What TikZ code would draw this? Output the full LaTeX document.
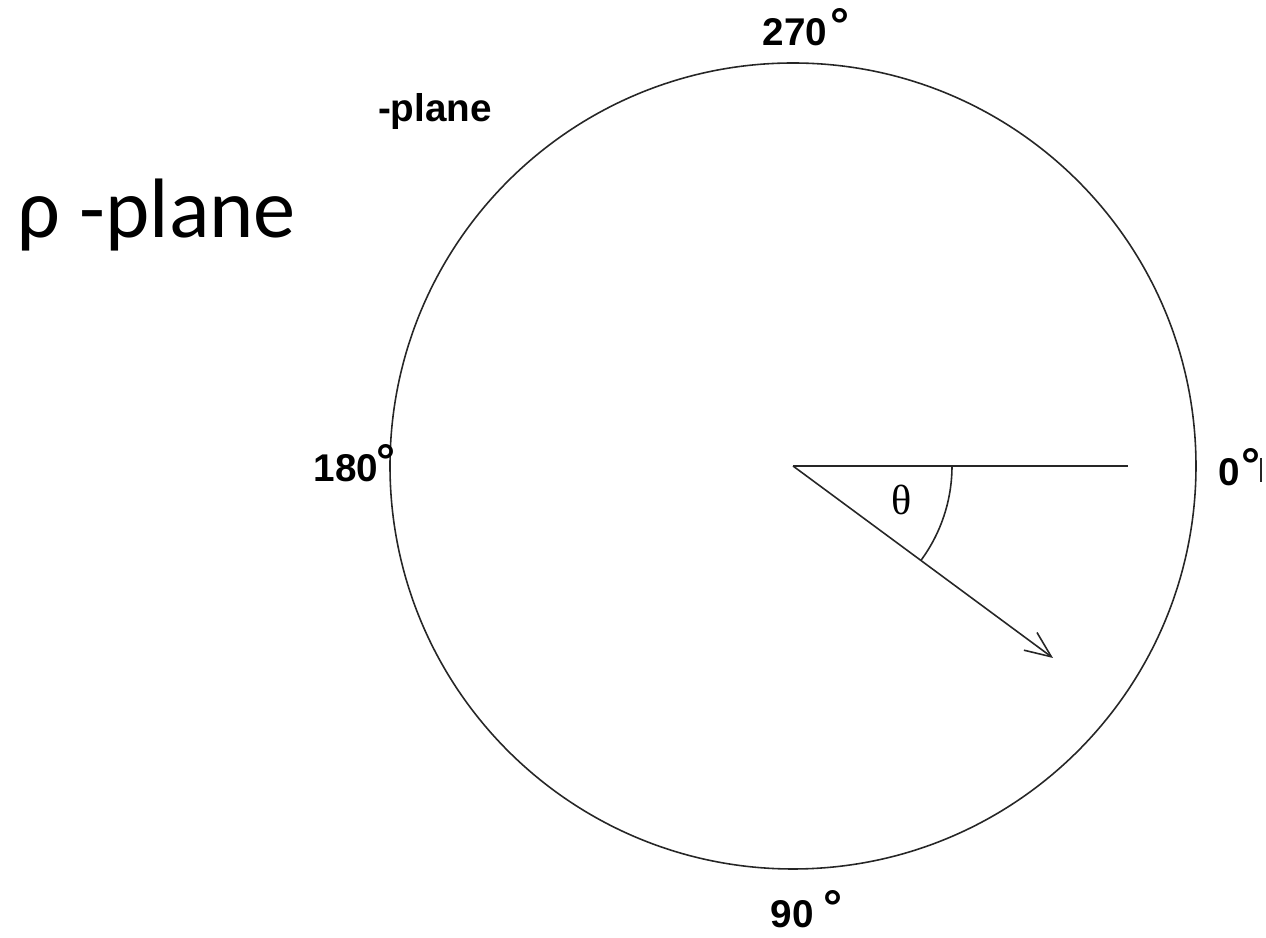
\documentclass[tikz,border=0pt]{standalone}
\usepackage{fontspec}
\setmainfont{Liberation Sans}
\newfontfamily\calibri{Carlito}
\newfontfamily\timesfont{Liberation Serif}
\usetikzlibrary{arrows.meta,positioning}
\newcommand{\degmark}{\raisebox{1.3pt}{\fontsize{13.5}{13.5}\selectfont°}}

\begin{document}
\begin{tikzpicture}[line width=0.45pt,
    deg/.style={font=\fontsize{11}{13}\selectfont\bfseries, inner sep=0pt},
    arrowtip/.style={-{Straight Barb[length=2.6mm,width=2.2mm]}}]
\useasboundingbox (0,0) rectangle (12.66,9.38);
\coordinate (o) at (7.93,4.72);
\coordinate (r) at (11.28,4.72);
\coordinate (tip) at (10.53,2.80);
\coordinate (a0) at (9.52,4.72);

\draw[black!85] (o) circle (4.03);
\draw[black!85] (o) -- (r);
\draw[black!85, arrowtip] (o) -- (tip);
\draw[black!85] (a0) arc[start angle=0, end angle=-36.4, radius=1.59];

\node (theta) at (9.02,4.38) {\timesfont\fontsize{12}{14}\selectfont θ};

% angle labels
\node[deg, anchor=base west] (d0) at (12.18,4.52) {0\kern0.3pt\degmark};
\node[deg, anchor=base west] (d180) at (3.13,4.56) {180\kern-0.5pt\degmark};
\node[deg, anchor=base west] (d270) at (7.62,8.92) {270\kern1pt\degmark};
\node[deg, anchor=base west] (d90) at (7.70,0.10) {90\kern2.8pt\degmark};
\coordinate (bar) at (12.61,4.80);
\draw[black!85] (bar) -- ++(0,-0.24);

% titles
\node[deg] (plane) at (4.35,8.26) {-plane};
\node[anchor=base west, inner sep=0pt] (rho) at (0.17,7.00) {\calibri\fontsize{24}{28}\selectfont ρ -plane};
\end{tikzpicture}
\end{document}
